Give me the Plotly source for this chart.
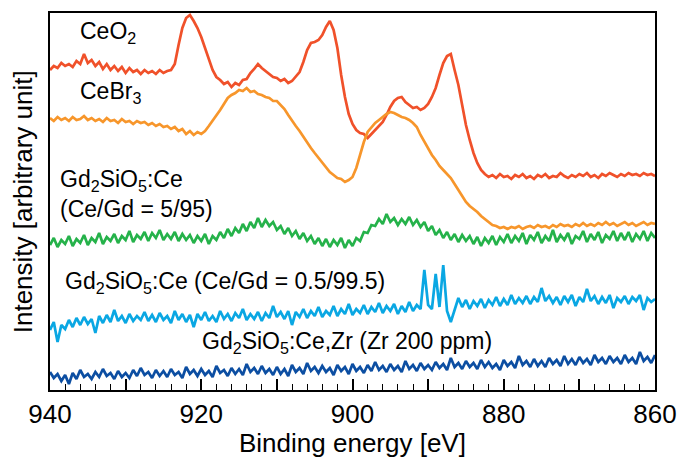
import plotly.graph_objects as go

# Binding energy grid (eV), 0.5 eV steps from 940 down to 860
energy = [940 - 0.5 * i for i in range(161)]

# Intensities (arbitrary units, stacked/offset traces)
ceo2 = [
    320, 324, 322, 327, 324, 326, 323, 329, 326, 336,
    327, 330, 324, 328, 321, 326, 320, 324, 319, 323,
    317, 322, 318, 320, 316, 320, 317, 319, 316, 320,
    317, 319, 320, 326, 345, 362, 372, 375, 369, 362,
    353, 342, 330, 320, 313, 310, 306, 308, 303, 307,
    305, 310, 311, 317, 321, 326, 322, 319, 316, 313,
    312, 309, 311, 307, 309, 314, 318, 328, 340, 347,
    348, 350, 355, 363, 369, 360, 342, 315, 293, 276,
    266, 260, 257, 256, 252, 256, 260, 263, 268, 275,
    283, 289, 292, 293, 288, 285, 282, 283, 280, 282,
    286, 293, 302, 315, 327, 334, 336, 320, 305, 285,
    265, 250, 237, 227, 220, 216, 213, 215, 212, 216,
    213, 214, 211, 215, 213, 216, 212, 214, 211, 215,
    213, 216, 212, 214, 213, 217, 214, 212, 215, 213,
    216, 214, 217, 213, 215, 212, 216, 214, 217, 215,
    213, 216, 214, 217, 215, 216, 214, 217, 215, 216,
    214,
]

cebr3 = [
    272, 269, 273, 270, 272, 269, 273, 270, 271, 274,
    270, 272, 269, 271, 268, 272, 269, 270, 267, 271,
    268, 269, 266, 269, 267, 268, 265, 267, 264, 266,
    263, 264, 261, 263, 259, 261, 256, 259, 255, 258,
    256, 259, 264, 269, 274, 280, 286, 292, 295, 297,
    300, 299, 302, 298, 299, 296, 295, 293, 292, 289,
    289, 285, 281, 275, 269, 264, 259, 253, 248, 242,
    237, 232, 227, 222, 218, 215, 212, 211, 208, 210,
    213, 222, 235, 248, 258, 263, 267, 270, 273, 276,
    278, 277, 275, 273, 272, 270, 267, 263, 255, 248,
    241, 235, 230, 224, 220, 216, 212, 206, 200, 194,
    188, 184, 181, 178, 174, 171, 168, 165, 164, 162,
    163, 161, 163, 162, 164, 161, 163, 164, 162, 165,
    163, 164, 162, 165, 163, 166, 164, 165, 163, 166,
    164, 167, 164, 166, 164, 167, 165, 168, 165, 167,
    164, 166, 168, 165, 167, 164, 166, 168, 165, 167,
    166,
]

gso_5 = [
    145, 152, 143, 150, 146, 154, 144, 151, 147, 155,
    145, 152, 148, 157, 146, 153, 149, 156, 147, 154,
    150, 159, 148, 155, 151, 158, 149, 157, 152, 160,
    150, 156, 151, 158, 149, 156, 150, 155, 147, 154,
    149, 156, 146, 154, 150, 158, 152, 161, 154, 162,
    157, 166, 159, 168, 162, 172, 163, 170, 164, 168,
    160, 164, 156, 162, 154, 159, 151, 157, 149, 154,
    146, 152, 144, 151, 143, 150, 145, 152, 142, 150,
    144, 152, 149, 158, 157, 165, 164, 171, 166, 176,
    168, 172, 165, 171, 166, 173, 165, 170, 163, 168,
    159, 164, 155, 160, 152, 158, 150, 156, 148, 155,
    149, 154, 146, 153, 144, 152, 147, 154, 145, 153,
    148, 156, 147, 154, 149, 157, 146, 155, 150, 158,
    147, 154, 149, 160, 148, 155, 150, 157, 146, 154,
    151, 159, 148, 156, 150, 158, 147, 155, 151, 159,
    149, 157, 150, 158, 148, 156, 151, 159, 149, 157,
    152,
]

gso_05 = [
    60, 68, 48, 65, 61, 70, 63, 72, 65, 73,
    66, 71, 57, 74, 67, 75, 68, 80, 69, 74,
    67, 76, 69, 74, 70, 78, 69, 75, 68, 77,
    70, 74, 67, 79, 70, 76, 68, 75, 63, 76,
    70, 78, 69, 74, 68, 79, 71, 76, 69, 77,
    72, 81, 70, 76, 71, 78, 69, 77, 72, 84,
    73, 78, 71, 79, 65, 78, 73, 81, 72, 79,
    74, 83, 73, 79, 75, 84, 74, 81, 76, 86,
    75, 81, 77, 85, 76, 83, 78, 87, 77, 84,
    79, 86, 76, 84, 78, 88, 79, 85, 81, 120,
    85, 81, 116, 83, 125, 79, 68, 81, 92, 83,
    90, 81, 89, 84, 91, 82, 90, 85, 93, 84,
    91, 85, 95, 86, 92, 87, 94, 86, 93, 88,
    102, 89, 94, 87, 93, 85, 94, 88, 95, 84,
    93, 88, 101, 89, 94, 86, 93, 87, 95, 82,
    92, 88, 94, 86, 93, 89, 95, 80, 92, 88,
    91,
]

gso_zr = [
    18, 12, 16, 9, 15, 6, 17, 11, 20, 13,
    16, 11, 18, 13, 21, 14, 17, 11, 19, 13,
    17, 12, 20, 14, 22, 15, 18, 12, 20, 14,
    19, 13, 21, 15, 18, 12, 23, 16, 20, 14,
    21, 15, 19, 13, 24, 17, 20, 14, 22, 16,
    21, 15, 26, 18, 22, 16, 24, 17, 21, 15,
    23, 16, 21, 14, 25, 18, 22, 16, 27, 19,
    23, 17, 24, 18, 22, 15, 25, 19, 23, 16,
    26, 19, 23, 17, 25, 19, 28, 20, 24, 18,
    26, 20, 24, 18, 29, 21, 25, 19, 27, 21,
    25, 20, 28, 22, 26, 20, 32, 23, 27, 21,
    29, 23, 27, 21, 30, 23, 28, 22, 26, 20,
    30, 24, 28, 22, 34, 25, 29, 23, 31, 24,
    29, 23, 32, 26, 30, 24, 34, 26, 31, 25,
    33, 27, 31, 25, 35, 28, 32, 26, 34, 28,
    32, 26, 35, 28, 32, 26, 38, 29, 33, 27,
    35,
]

series = [
    ("CeO2", ceo2, "#F0512A"),
    ("CeBr3", cebr3, "#F7962B"),
    ("Gd2SiO5:Ce 5/95", gso_5, "#25B24A"),
    ("Gd2SiO5:Ce 0.5/99.5", gso_05, "#0AA7E3"),
    ("Gd2SiO5:Ce,Zr", gso_zr, "#0C4EA2"),
]

tick_vals = [940, 930, 920, 910, 900, 890, 880, 870, 860]
tick_text = ["940", "", "920", "", "900", "", "880", "", "860"]

FONT = "Arial, Liberation Sans, sans-serif"

fig = go.Figure()
for name, vals, col in series:
    fig.add_trace(go.Scatter(x=energy, y=vals, mode="lines", name=name,
                             line=dict(color=col, width=2.7), showlegend=False))

labels = [
    ("CeO<sub>2</sub>", 936.3, 358),
    ("CeBr<sub>3</sub>", 936.3, 298),
    ("Gd<sub>2</sub>SiO<sub>5</sub>:Ce<br>(Ce/Gd = 5/95)", 938.9, 196),
    ("Gd<sub>2</sub>SiO<sub>5</sub>:Ce (Ce/Gd = 0.5/99.5)", 938.3, 108),
    ("Gd<sub>2</sub>SiO<sub>5</sub>:Ce,Zr (Zr 200 ppm)", 920.2, 48),
]
for txt, xe, yv in labels:
    fig.add_annotation(x=xe, y=yv, text=txt, showarrow=False, xanchor="left",
                       yanchor="middle", align="left",
                       font=dict(family=FONT, size=23, color="black"))

# Axis titles placed as paper-referenced annotations
fig.add_annotation(x=0.5, y=-0.14, xref="paper", yref="paper",
                   text="Binding energy [eV]", showarrow=False,
                   xanchor="center", yanchor="middle",
                   font=dict(family=FONT, size=26, color="black"))
fig.add_annotation(x=-0.045, y=0.5, xref="paper", yref="paper",
                   text="Intensity [arbitrary unit]", showarrow=False, textangle=-90,
                   xanchor="center", yanchor="middle",
                   font=dict(family=FONT, size=26, color="black"))

fig.update_layout(
    width=678, height=459,
    margin=dict(l=50, r=23, t=13, b=69, autoexpand=False),
    paper_bgcolor="white", plot_bgcolor="white",
    font=dict(family=FONT, color="black"),
)
fig.update_xaxes(
    range=[940, 860], tickvals=tick_vals, ticktext=tick_text,
    ticks="inside", ticklen=11, tickwidth=1.5, tickcolor="black",
    minor=dict(dtick=2, ticks="inside", ticklen=6, tickwidth=1.2, tickcolor="black"),
    showline=True, linecolor="black", linewidth=2, mirror=True,
    showgrid=False, zeroline=False, automargin=False,
    tickfont=dict(family=FONT, size=26),
)
fig.update_yaxes(
    range=[0, 377], showticklabels=False, ticks="",
    showline=True, linecolor="black", linewidth=2, mirror=True,
    showgrid=False, zeroline=False, automargin=False,
)

fig.write_html("out.html", config={"displayModeBar": False},
               post_script="document.body.style.margin='0';")
